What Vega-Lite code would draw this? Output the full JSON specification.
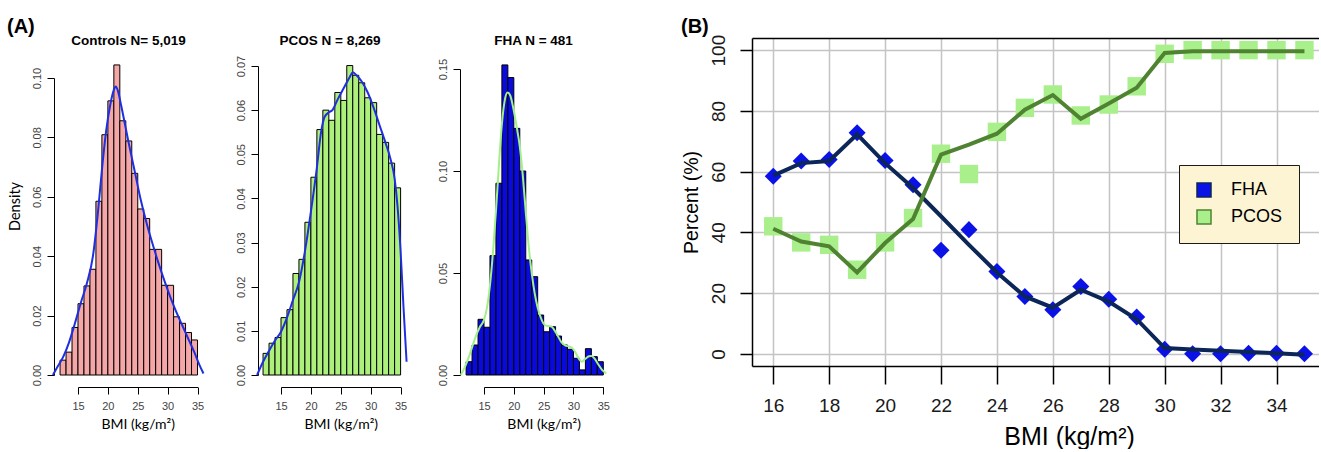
{
  "$schema": "https://vega.github.io/schema/vega-lite/v6.json",
  "background": "white",
  "padding": {"left": 7, "top": 17, "right": 0, "bottom": 0},
  "title": {"text": "(A)", "anchor": "start", "frame": "bounds", "fontSize": 20, "fontWeight": "bold", "font": "Liberation Sans", "color": "black", "offset": -20},
  "bounds": "flush",
  "spacing": 40,
  "config": {
    "view": {"stroke": null},
    "axis": {"labelFont": "Liberation Sans", "titleFont": "Liberation Sans", "domainColor": "black", "tickColor": "black", "labelColor": "#444", "titleColor": "black", "grid": false, "titleFontWeight": "normal", "labelFlush": false, "labelOverlap": false}
  },
  "datasets": {
    "hist": [
      {"g": "Controls", "x0": 12, "x1": 13, "d": 0.0050}, {"g": "Controls", "x0": 13, "x1": 14, "d": 0.0077}, {"g": "Controls", "x0": 14, "x1": 15, "d": 0.0160}, {"g": "Controls", "x0": 15, "x1": 16, "d": 0.0240}, {"g": "Controls", "x0": 16, "x1": 17, "d": 0.0300}, {"g": "Controls", "x0": 17, "x1": 18, "d": 0.0356}, {"g": "Controls", "x0": 18, "x1": 19, "d": 0.0585}, {"g": "Controls", "x0": 19, "x1": 20, "d": 0.0809}, {"g": "Controls", "x0": 20, "x1": 21, "d": 0.0923}, {"g": "Controls", "x0": 21, "x1": 22, "d": 0.1044}, {"g": "Controls", "x0": 22, "x1": 23, "d": 0.0856}, {"g": "Controls", "x0": 23, "x1": 24, "d": 0.0788}, {"g": "Controls", "x0": 24, "x1": 25, "d": 0.0679}, {"g": "Controls", "x0": 25, "x1": 26, "d": 0.0559}, {"g": "Controls", "x0": 26, "x1": 27, "d": 0.0527}, {"g": "Controls", "x0": 27, "x1": 28, "d": 0.0423}, {"g": "Controls", "x0": 28, "x1": 29, "d": 0.0423}, {"g": "Controls", "x0": 29, "x1": 30, "d": 0.0302}, {"g": "Controls", "x0": 30, "x1": 31, "d": 0.0302}, {"g": "Controls", "x0": 31, "x1": 32, "d": 0.0196}, {"g": "Controls", "x0": 32, "x1": 33, "d": 0.0174}, {"g": "Controls", "x0": 33, "x1": 34, "d": 0.0143}, {"g": "Controls", "x0": 34, "x1": 35, "d": 0.0118},
      {"g": "PCOS", "x0": 12, "x1": 13, "d": 0.0049}, {"g": "PCOS", "x0": 13, "x1": 14, "d": 0.0072}, {"g": "PCOS", "x0": 14, "x1": 15, "d": 0.0085}, {"g": "PCOS", "x0": 15, "x1": 16, "d": 0.0130}, {"g": "PCOS", "x0": 16, "x1": 17, "d": 0.0148}, {"g": "PCOS", "x0": 17, "x1": 18, "d": 0.0230}, {"g": "PCOS", "x0": 18, "x1": 19, "d": 0.0262}, {"g": "PCOS", "x0": 19, "x1": 20, "d": 0.0346}, {"g": "PCOS", "x0": 20, "x1": 21, "d": 0.0448}, {"g": "PCOS", "x0": 21, "x1": 22, "d": 0.0556}, {"g": "PCOS", "x0": 22, "x1": 23, "d": 0.0600}, {"g": "PCOS", "x0": 23, "x1": 24, "d": 0.0577}, {"g": "PCOS", "x0": 24, "x1": 25, "d": 0.0640}, {"g": "PCOS", "x0": 25, "x1": 26, "d": 0.0622}, {"g": "PCOS", "x0": 26, "x1": 27, "d": 0.0701}, {"g": "PCOS", "x0": 27, "x1": 28, "d": 0.0679}, {"g": "PCOS", "x0": 28, "x1": 29, "d": 0.0662}, {"g": "PCOS", "x0": 29, "x1": 30, "d": 0.0628}, {"g": "PCOS", "x0": 30, "x1": 31, "d": 0.0617}, {"g": "PCOS", "x0": 31, "x1": 32, "d": 0.0545}, {"g": "PCOS", "x0": 32, "x1": 33, "d": 0.0527}, {"g": "PCOS", "x0": 33, "x1": 34, "d": 0.0480}, {"g": "PCOS", "x0": 34, "x1": 35, "d": 0.0424},
      {"g": "FHA", "x0": 12, "x1": 13, "d": 0.0065}, {"g": "FHA", "x0": 13, "x1": 14, "d": 0.0147}, {"g": "FHA", "x0": 14, "x1": 15, "d": 0.0273}, {"g": "FHA", "x0": 15, "x1": 16, "d": 0.0234}, {"g": "FHA", "x0": 16, "x1": 17, "d": 0.0585}, {"g": "FHA", "x0": 17, "x1": 18, "d": 0.0940}, {"g": "FHA", "x0": 18, "x1": 19, "d": 0.1520}, {"g": "FHA", "x0": 19, "x1": 20, "d": 0.1458}, {"g": "FHA", "x0": 20, "x1": 21, "d": 0.1209}, {"g": "FHA", "x0": 21, "x1": 22, "d": 0.1000}, {"g": "FHA", "x0": 22, "x1": 23, "d": 0.0564}, {"g": "FHA", "x0": 23, "x1": 24, "d": 0.0482}, {"g": "FHA", "x0": 24, "x1": 25, "d": 0.0294}, {"g": "FHA", "x0": 25, "x1": 26, "d": 0.0212}, {"g": "FHA", "x0": 26, "x1": 27, "d": 0.0237}, {"g": "FHA", "x0": 27, "x1": 28, "d": 0.0191}, {"g": "FHA", "x0": 28, "x1": 29, "d": 0.0147}, {"g": "FHA", "x0": 29, "x1": 30, "d": 0.0126}, {"g": "FHA", "x0": 30, "x1": 31, "d": 0.0082}, {"g": "FHA", "x0": 31, "x1": 32, "d": 0.0025}, {"g": "FHA", "x0": 32, "x1": 33, "d": 0.0129}, {"g": "FHA", "x0": 33, "x1": 34, "d": 0.0090}, {"g": "FHA", "x0": 34, "x1": 35, "d": 0.0065}
    ],
    "dens": [
      {"g": "Controls", "x": 10.8, "d": 0.0}, {"g": "Controls", "x": 11.5, "d": 0.0025}, {"g": "Controls", "x": 12.5, "d": 0.006}, {"g": "Controls", "x": 13.5, "d": 0.011}, {"g": "Controls", "x": 14.5, "d": 0.0175}, {"g": "Controls", "x": 15.5, "d": 0.0245}, {"g": "Controls", "x": 16.5, "d": 0.031}, {"g": "Controls", "x": 17.5, "d": 0.04}, {"g": "Controls", "x": 18.3, "d": 0.054}, {"g": "Controls", "x": 19.0, "d": 0.069}, {"g": "Controls", "x": 19.7, "d": 0.082}, {"g": "Controls", "x": 20.4, "d": 0.091}, {"g": "Controls", "x": 21.0, "d": 0.096}, {"g": "Controls", "x": 21.3, "d": 0.0971}, {"g": "Controls", "x": 21.7, "d": 0.0955}, {"g": "Controls", "x": 22.2, "d": 0.091}, {"g": "Controls", "x": 22.8, "d": 0.085}, {"g": "Controls", "x": 23.5, "d": 0.078}, {"g": "Controls", "x": 24.5, "d": 0.0685}, {"g": "Controls", "x": 25.5, "d": 0.059}, {"g": "Controls", "x": 26.5, "d": 0.051}, {"g": "Controls", "x": 27.5, "d": 0.044}, {"g": "Controls", "x": 28.5, "d": 0.0375}, {"g": "Controls", "x": 29.5, "d": 0.0315}, {"g": "Controls", "x": 30.5, "d": 0.026}, {"g": "Controls", "x": 31.5, "d": 0.021}, {"g": "Controls", "x": 32.5, "d": 0.0165}, {"g": "Controls", "x": 33.5, "d": 0.012}, {"g": "Controls", "x": 34.5, "d": 0.0075}, {"g": "Controls", "x": 35.3, "d": 0.0035}, {"g": "Controls", "x": 36.0, "d": 0.0005},
      {"g": "PCOS", "x": 11.0, "d": 0.0}, {"g": "PCOS", "x": 12, "d": 0.003}, {"g": "PCOS", "x": 13, "d": 0.0055}, {"g": "PCOS", "x": 14, "d": 0.0078}, {"g": "PCOS", "x": 15, "d": 0.0098}, {"g": "PCOS", "x": 16, "d": 0.013}, {"g": "PCOS", "x": 17, "d": 0.017}, {"g": "PCOS", "x": 18, "d": 0.021}, {"g": "PCOS", "x": 19, "d": 0.028}, {"g": "PCOS", "x": 20, "d": 0.037}, {"g": "PCOS", "x": 21, "d": 0.047}, {"g": "PCOS", "x": 21.7, "d": 0.055}, {"g": "PCOS", "x": 22.3, "d": 0.0585}, {"g": "PCOS", "x": 23.0, "d": 0.0595}, {"g": "PCOS", "x": 23.6, "d": 0.06}, {"g": "PCOS", "x": 24.5, "d": 0.0625}, {"g": "PCOS", "x": 25.5, "d": 0.065}, {"g": "PCOS", "x": 26.5, "d": 0.0675}, {"g": "PCOS", "x": 27.0, "d": 0.0686}, {"g": "PCOS", "x": 27.7, "d": 0.0678}, {"g": "PCOS", "x": 28.5, "d": 0.0665}, {"g": "PCOS", "x": 29.5, "d": 0.064}, {"g": "PCOS", "x": 30.5, "d": 0.0605}, {"g": "PCOS", "x": 31.5, "d": 0.0565}, {"g": "PCOS", "x": 32.5, "d": 0.0525}, {"g": "PCOS", "x": 33.3, "d": 0.049}, {"g": "PCOS", "x": 34.0, "d": 0.0445}, {"g": "PCOS", "x": 34.5, "d": 0.038}, {"g": "PCOS", "x": 35.0, "d": 0.028}, {"g": "PCOS", "x": 35.5, "d": 0.015}, {"g": "PCOS", "x": 36.0, "d": 0.003},
      {"g": "FHA", "x": 11.1, "d": 0.0}, {"g": "FHA", "x": 11.8, "d": 0.004}, {"g": "FHA", "x": 12.6, "d": 0.01}, {"g": "FHA", "x": 13.5, "d": 0.018}, {"g": "FHA", "x": 14.3, "d": 0.0235}, {"g": "FHA", "x": 15.0, "d": 0.027}, {"g": "FHA", "x": 15.5, "d": 0.033}, {"g": "FHA", "x": 16.0, "d": 0.044}, {"g": "FHA", "x": 16.5, "d": 0.06}, {"g": "FHA", "x": 17.0, "d": 0.08}, {"g": "FHA", "x": 17.5, "d": 0.103}, {"g": "FHA", "x": 18.0, "d": 0.123}, {"g": "FHA", "x": 18.5, "d": 0.135}, {"g": "FHA", "x": 18.95, "d": 0.1385}, {"g": "FHA", "x": 19.4, "d": 0.137}, {"g": "FHA", "x": 19.9, "d": 0.131}, {"g": "FHA", "x": 20.4, "d": 0.123}, {"g": "FHA", "x": 21.0, "d": 0.112}, {"g": "FHA", "x": 21.5, "d": 0.098}, {"g": "FHA", "x": 22.0, "d": 0.08}, {"g": "FHA", "x": 22.5, "d": 0.063}, {"g": "FHA", "x": 23.0, "d": 0.05}, {"g": "FHA", "x": 23.5, "d": 0.04}, {"g": "FHA", "x": 24.0, "d": 0.033}, {"g": "FHA", "x": 24.6, "d": 0.0275}, {"g": "FHA", "x": 25.2, "d": 0.0245}, {"g": "FHA", "x": 25.8, "d": 0.024}, {"g": "FHA", "x": 26.3, "d": 0.0238}, {"g": "FHA", "x": 26.8, "d": 0.022}, {"g": "FHA", "x": 27.4, "d": 0.019}, {"g": "FHA", "x": 28.0, "d": 0.016}, {"g": "FHA", "x": 28.6, "d": 0.0145}, {"g": "FHA", "x": 29.2, "d": 0.014}, {"g": "FHA", "x": 29.7, "d": 0.0135}, {"g": "FHA", "x": 30.3, "d": 0.0112}, {"g": "FHA", "x": 30.9, "d": 0.008}, {"g": "FHA", "x": 31.4, "d": 0.0065}, {"g": "FHA", "x": 32.0, "d": 0.008}, {"g": "FHA", "x": 32.6, "d": 0.0092}, {"g": "FHA", "x": 33.0, "d": 0.0093}, {"g": "FHA", "x": 33.6, "d": 0.0078}, {"g": "FHA", "x": 34.2, "d": 0.005}, {"g": "FHA", "x": 34.8, "d": 0.0025}, {"g": "FHA", "x": 35.5, "d": 0.0008}
    ],
    "pts": [
      {"bmi": 16, "group": "FHA", "pct": 58.5}, {"bmi": 17, "group": "FHA", "pct": 63.5}, {"bmi": 18, "group": "FHA", "pct": 64.0}, {"bmi": 19, "group": "FHA", "pct": 72.8}, {"bmi": 20, "group": "FHA", "pct": 63.7}, {"bmi": 21, "group": "FHA", "pct": 55.7}, {"bmi": 22, "group": "FHA", "pct": 34.1}, {"bmi": 23, "group": "FHA", "pct": 40.9}, {"bmi": 24, "group": "FHA", "pct": 27.1}, {"bmi": 25, "group": "FHA", "pct": 18.9}, {"bmi": 26, "group": "FHA", "pct": 14.5}, {"bmi": 27, "group": "FHA", "pct": 22.2}, {"bmi": 28, "group": "FHA", "pct": 18.0}, {"bmi": 29, "group": "FHA", "pct": 12.1}, {"bmi": 30, "group": "FHA", "pct": 1.5}, {"bmi": 31, "group": "FHA", "pct": 0.0}, {"bmi": 32, "group": "FHA", "pct": 0.0}, {"bmi": 33, "group": "FHA", "pct": 0.2}, {"bmi": 34, "group": "FHA", "pct": 0.2}, {"bmi": 35, "group": "FHA", "pct": 0.0},
      {"bmi": 16, "group": "PCOS", "pct": 42.0}, {"bmi": 17, "group": "PCOS", "pct": 36.7}, {"bmi": 18, "group": "PCOS", "pct": 35.9}, {"bmi": 19, "group": "PCOS", "pct": 27.7}, {"bmi": 20, "group": "PCOS", "pct": 36.7}, {"bmi": 21, "group": "PCOS", "pct": 44.7}, {"bmi": 22, "group": "PCOS", "pct": 65.9}, {"bmi": 23, "group": "PCOS", "pct": 59.2}, {"bmi": 24, "group": "PCOS", "pct": 73.1}, {"bmi": 25, "group": "PCOS", "pct": 81.0}, {"bmi": 26, "group": "PCOS", "pct": 85.4}, {"bmi": 27, "group": "PCOS", "pct": 78.5}, {"bmi": 28, "group": "PCOS", "pct": 82.1}, {"bmi": 29, "group": "PCOS", "pct": 88.1}, {"bmi": 30, "group": "PCOS", "pct": 98.8}, {"bmi": 31, "group": "PCOS", "pct": 100}, {"bmi": 32, "group": "PCOS", "pct": 100}, {"bmi": 33, "group": "PCOS", "pct": 100}, {"bmi": 34, "group": "PCOS", "pct": 100}, {"bmi": 35, "group": "PCOS", "pct": 100}
    ],
    "fit": [
      {"bmi": 16, "group": "FHA", "pct": 58.7}, {"bmi": 17, "group": "FHA", "pct": 62.8}, {"bmi": 18, "group": "FHA", "pct": 63.5}, {"bmi": 19, "group": "FHA", "pct": 72.3}, {"bmi": 20, "group": "FHA", "pct": 62.8}, {"bmi": 21, "group": "FHA", "pct": 54.6}, {"bmi": 22, "group": "FHA", "pct": 45.3}, {"bmi": 23, "group": "FHA", "pct": 35.9}, {"bmi": 24, "group": "FHA", "pct": 26.8}, {"bmi": 25, "group": "FHA", "pct": 18.9}, {"bmi": 26, "group": "FHA", "pct": 15.2}, {"bmi": 27, "group": "FHA", "pct": 21.1}, {"bmi": 28, "group": "FHA", "pct": 17.2}, {"bmi": 29, "group": "FHA", "pct": 11.4}, {"bmi": 30, "group": "FHA", "pct": 1.9}, {"bmi": 31, "group": "FHA", "pct": 1.4}, {"bmi": 32, "group": "FHA", "pct": 1.0}, {"bmi": 33, "group": "FHA", "pct": 0.6}, {"bmi": 34, "group": "FHA", "pct": 0.2}, {"bmi": 35, "group": "FHA", "pct": -0.3},
      {"bmi": 16, "group": "PCOS", "pct": 41.2}, {"bmi": 17, "group": "PCOS", "pct": 37.0}, {"bmi": 18, "group": "PCOS", "pct": 35.4}, {"bmi": 19, "group": "PCOS", "pct": 26.8}, {"bmi": 20, "group": "PCOS", "pct": 36.5}, {"bmi": 21, "group": "PCOS", "pct": 44.4}, {"bmi": 22, "group": "PCOS", "pct": 65.6}, {"bmi": 23, "group": "PCOS", "pct": 68.9}, {"bmi": 24, "group": "PCOS", "pct": 72.5}, {"bmi": 25, "group": "PCOS", "pct": 80.4}, {"bmi": 26, "group": "PCOS", "pct": 85.2}, {"bmi": 27, "group": "PCOS", "pct": 77.4}, {"bmi": 28, "group": "PCOS", "pct": 82.4}, {"bmi": 29, "group": "PCOS", "pct": 87.6}, {"bmi": 30, "group": "PCOS", "pct": 99.1}, {"bmi": 31, "group": "PCOS", "pct": 99.6}, {"bmi": 32, "group": "PCOS", "pct": 99.6}, {"bmi": 33, "group": "PCOS", "pct": 99.6}, {"bmi": 34, "group": "PCOS", "pct": 99.6}, {"bmi": 35, "group": "PCOS", "pct": 99.6}
    ]
  },
  "hconcat": [
    {
      "width": 163, "height": 337,
      "title": {"text": "Controls N= 5,019", "frame": "group", "anchor": "middle", "dx": -31, "offset": -20, "baseline": "alphabetic", "fontSize": 13.5, "fontWeight": "bold", "font": "Liberation Sans", "color": "black"},
      "layer": [
        {
          "data": {"name": "hist"},
          "transform": [{"filter": "datum.g === 'Controls'"}],
          "mark": {"type": "rect", "fill": "#f5a6a6", "stroke": "black", "strokeWidth": 1},
          "encoding": {
            "x": {"field": "x0", "type": "quantitative", "scale": {"domain": [15, 35], "range": [0, 119.5], "nice": false, "zero": false},
                  "axis": {"values": [15, 20, 25, 30, 35], "offset": 12, "tickSize": 7, "labelFontSize": 11, "labelPadding": 6, "title": "BMI (kg/m²)", "titleFont": "Lato", "titleFontSize": 14, "titlePadding": 6}},
            "x2": {"field": "x1"},
            "y": {"field": "d", "type": "quantitative", "scale": {"domain": [0, 0.1], "range": [337, 40], "nice": false},
                  "axis": {"values": [0, 0.02, 0.04, 0.06, 0.08, 0.1], "format": ".2f", "offset": 24, "tickSize": 7, "labelAngle": -90, "labelAlign": "center", "labelBaseline": "alphabetic", "labelPadding": 7, "labelFontSize": 11, "title": "Density", "titleFont": "Lato", "titleFontSize": 14.5, "titlePadding": 9, "titleY": 168}},
            "y2": {"datum": 0}
          }
        },
        {
          "data": {"name": "dens"},
          "transform": [{"filter": "datum.g === 'Controls'"}],
          "mark": {"type": "line", "color": "#1f2fe0", "strokeWidth": 2, "interpolate": "monotone"},
          "encoding": {
            "x": {"field": "x", "type": "quantitative",
                  "axis": {"values": [15, 20, 25, 30, 35], "offset": 12, "tickSize": 7, "labelFontSize": 11, "labelPadding": 6, "title": "BMI (kg/m²)", "titleFont": "Lato", "titleFontSize": 14, "titlePadding": 6}},
            "y": {"field": "d", "type": "quantitative",
                  "axis": {"values": [0, 0.02, 0.04, 0.06, 0.08, 0.1], "format": ".2f", "offset": 24, "tickSize": 7, "labelAngle": -90, "labelAlign": "center", "labelBaseline": "alphabetic", "labelPadding": 7, "labelFontSize": 11, "title": "Density", "titleFont": "Lato", "titleFontSize": 14.5, "titlePadding": 9, "titleY": 168}}
          }
        }
      ]
    },
    {
      "width": 163, "height": 337,
      "title": {"text": "PCOS N = 8,269", "frame": "group", "anchor": "middle", "dx": -32.5, "offset": -20, "baseline": "alphabetic", "fontSize": 13.5, "fontWeight": "bold", "font": "Liberation Sans", "color": "black"},
      "layer": [
        {
          "data": {"name": "hist"},
          "transform": [{"filter": "datum.g === 'PCOS'"}],
          "mark": {"type": "rect", "fill": "#adf07c", "stroke": "black", "strokeWidth": 1},
          "encoding": {
            "x": {"field": "x0", "type": "quantitative", "scale": {"domain": [15, 35], "range": [0, 119.6], "nice": false, "zero": false},
                  "axis": {"values": [15, 20, 25, 30, 35], "offset": 12, "tickSize": 7, "labelFontSize": 11, "labelPadding": 6, "title": "BMI (kg/m²)", "titleFont": "Lato", "titleFontSize": 14, "titlePadding": 6}},
            "x2": {"field": "x1"},
            "y": {"field": "d", "type": "quantitative", "scale": {"domain": [0, 0.07], "range": [337, 28], "nice": false},
                  "axis": {"values": [0, 0.01, 0.02, 0.03, 0.04, 0.05, 0.06, 0.07], "format": ".2f", "offset": 23, "tickSize": 7, "labelAngle": -90, "labelAlign": "center", "labelBaseline": "alphabetic", "labelPadding": 7, "labelFontSize": 11, "title": null}},
            "y2": {"datum": 0}
          }
        },
        {
          "data": {"name": "dens"},
          "transform": [{"filter": "datum.g === 'PCOS'"}],
          "mark": {"type": "line", "color": "#1f2fe0", "strokeWidth": 2, "interpolate": "monotone"},
          "encoding": {
            "x": {"field": "x", "type": "quantitative",
                  "axis": {"values": [15, 20, 25, 30, 35], "offset": 12, "tickSize": 7, "labelFontSize": 11, "labelPadding": 6, "title": "BMI (kg/m²)", "titleFont": "Lato", "titleFontSize": 14, "titlePadding": 6}},
            "y": {"field": "d", "type": "quantitative",
                  "axis": {"values": [0, 0.01, 0.02, 0.03, 0.04, 0.05, 0.06, 0.07], "format": ".2f", "offset": 23, "tickSize": 7, "labelAngle": -90, "labelAlign": "center", "labelBaseline": "alphabetic", "labelPadding": 7, "labelFontSize": 11, "title": null}}
          }
        }
      ]
    },
    {
      "width": 228, "height": 337,
      "title": {"text": "FHA N = 481", "frame": "group", "anchor": "middle", "dx": -64.5, "offset": -20, "baseline": "alphabetic", "fontSize": 13.5, "fontWeight": "bold", "font": "Liberation Sans", "color": "black"},
      "layer": [
        {
          "data": {"name": "hist"},
          "transform": [{"filter": "datum.g === 'FHA'"}],
          "mark": {"type": "rect", "fill": "#0a0adc", "stroke": "black", "strokeWidth": 1},
          "encoding": {
            "x": {"field": "x0", "type": "quantitative", "scale": {"domain": [15, 35], "range": [0, 119.3], "nice": false, "zero": false},
                  "axis": {"values": [15, 20, 25, 30, 35], "offset": 12, "tickSize": 7, "labelFontSize": 11, "labelPadding": 6, "title": "BMI (kg/m²)", "titleFont": "Lato", "titleFontSize": 14, "titlePadding": 6}},
            "x2": {"field": "x1"},
            "y": {"field": "d", "type": "quantitative", "scale": {"domain": [0, 0.15], "range": [337, 31], "nice": false},
                  "axis": {"values": [0, 0.05, 0.1, 0.15], "format": ".2f", "offset": 24, "tickSize": 7, "labelAngle": -90, "labelAlign": "center", "labelBaseline": "alphabetic", "labelPadding": 7, "labelFontSize": 11, "title": null}},
            "y2": {"datum": 0}
          }
        },
        {
          "data": {"name": "dens"},
          "transform": [{"filter": "datum.g === 'FHA'"}],
          "mark": {"type": "line", "color": "#a3f08a", "strokeWidth": 2, "interpolate": "monotone"},
          "encoding": {
            "x": {"field": "x", "type": "quantitative",
                  "axis": {"values": [15, 20, 25, 30, 35], "offset": 12, "tickSize": 7, "labelFontSize": 11, "labelPadding": 6, "title": "BMI (kg/m²)", "titleFont": "Lato", "titleFontSize": 14, "titlePadding": 6}},
            "y": {"field": "d", "type": "quantitative",
                  "axis": {"values": [0, 0.05, 0.1, 0.15], "format": ".2f", "offset": 24, "tickSize": 7, "labelAngle": -90, "labelAlign": "center", "labelBaseline": "alphabetic", "labelPadding": 7, "labelFontSize": 11, "title": null}}
          }
        }
      ]
    },
    {
      "width": 567, "height": 328,
      "title": {"text": "(B)", "anchor": "start", "frame": "bounds", "fontSize": 20, "fontWeight": "bold", "font": "Liberation Sans", "color": "black", "offset": -3},
      "resolve": {"axis": {"x": "independent"}},
      "layer": [
        {
          "data": {"name": "pts"},
          "transform": [{"filter": "datum.group === 'PCOS'"}],
          "mark": {"type": "point", "filled": true, "opacity": 1, "shape": "square", "size": 340},
          "encoding": {
            "x": {"field": "bmi", "type": "quantitative", "scale": {"domain": [15.24, 35.52], "nice": false, "zero": false},
                  "axis": {"orient": "bottom", "values": [16, 18, 20, 22, 24, 26, 28, 30, 32, 34], "grid": true, "gridColor": "#c4c4c4", "gridWidth": 1.5, "domainWidth": 1.5, "tickSize": 18, "tickWidth": 1.5, "labelFontSize": 19, "labelColor": "#1a1a1a", "labelPadding": 12, "title": "BMI (kg/m²)", "titleFontSize": 25, "titlePadding": 9, "titleX": 317}},
            "y": {"field": "pct", "type": "quantitative", "scale": {"domain": [-4, 104], "nice": false, "zero": false},
                  "axis": {"values": [0, 20, 40, 60, 80, 100], "grid": true, "gridColor": "#c4c4c4", "gridWidth": 1.5, "domainWidth": 1.5, "tickSize": 12, "tickWidth": 1.5, "labelAngle": -90, "labelAlign": "center", "labelBaseline": "alphabetic", "labelPadding": 16, "labelFontSize": 19, "labelColor": "#1a1a1a", "title": "Percent (%)", "titleFontSize": 19.5, "titlePadding": 8}},
            "fill": {"field": "group", "type": "nominal", "scale": {"domain": ["FHA", "PCOS"], "range": ["#0b12e6", "#a9f08c"]},
                     "legend": {"orient": "none", "legendX": 1101, "legendY": 127, "title": null, "fillColor": "#fdf4d4", "strokeColor": "#1a1a1a", "padding": 16, "symbolType": "square", "symbolSize": 196, "symbolStrokeColor": "#111", "symbolStrokeWidth": 1.5, "symbolOpacity": 1, "labelFontSize": 18, "labelFont": "Liberation Sans", "labelColor": "black", "labelOffset": 18, "rowPadding": 7}}
          }
        },
        {
          "data": {"name": "pts"},
          "transform": [{"filter": "datum.group === 'FHA'"}],
          "mark": {"type": "point", "filled": true, "opacity": 1, "shape": "diamond", "size": 290},
          "encoding": {
            "x": {"field": "bmi", "type": "quantitative", "axis": null},
            "y": {"field": "pct", "type": "quantitative",
                  "axis": {"values": [0, 20, 40, 60, 80, 100], "grid": true, "gridColor": "#c4c4c4", "gridWidth": 1.5, "domainWidth": 1.5, "tickSize": 12, "tickWidth": 1.5, "labelAngle": -90, "labelAlign": "center", "labelBaseline": "alphabetic", "labelPadding": 16, "labelFontSize": 19, "labelColor": "#1a1a1a", "title": "Percent (%)", "titleFontSize": 19.5, "titlePadding": 8}},
            "fill": {"field": "group", "type": "nominal",
                     "legend": {"orient": "none", "legendX": 1101, "legendY": 127, "title": null, "fillColor": "#fdf4d4", "strokeColor": "#1a1a1a", "padding": 16, "symbolType": "square", "symbolSize": 196, "symbolStrokeColor": "#111", "symbolStrokeWidth": 1.5, "symbolOpacity": 1, "labelFontSize": 18, "labelFont": "Liberation Sans", "labelColor": "black", "labelOffset": 18, "rowPadding": 7}}
          }
        },
        {
          "data": {"name": "fit"},
          "mark": {"type": "line", "strokeWidth": 4},
          "encoding": {
            "x": {"field": "bmi", "type": "quantitative",
                  "axis": {"orient": "top", "labels": false, "ticks": false, "grid": false, "title": null, "domainWidth": 1.5}},
            "y": {"field": "pct", "type": "quantitative",
                  "axis": {"values": [0, 20, 40, 60, 80, 100], "grid": true, "gridColor": "#c4c4c4", "gridWidth": 1.5, "domainWidth": 1.5, "tickSize": 12, "tickWidth": 1.5, "labelAngle": -90, "labelAlign": "center", "labelBaseline": "alphabetic", "labelPadding": 16, "labelFontSize": 19, "labelColor": "#1a1a1a", "title": "Percent (%)", "titleFontSize": 19.5, "titlePadding": 8}},
            "stroke": {"field": "group", "type": "nominal", "scale": {"domain": ["FHA", "PCOS"], "range": ["#0d2658", "#4f8231"]}, "legend": null}
          }
        }
      ]
    }
  ]
}
